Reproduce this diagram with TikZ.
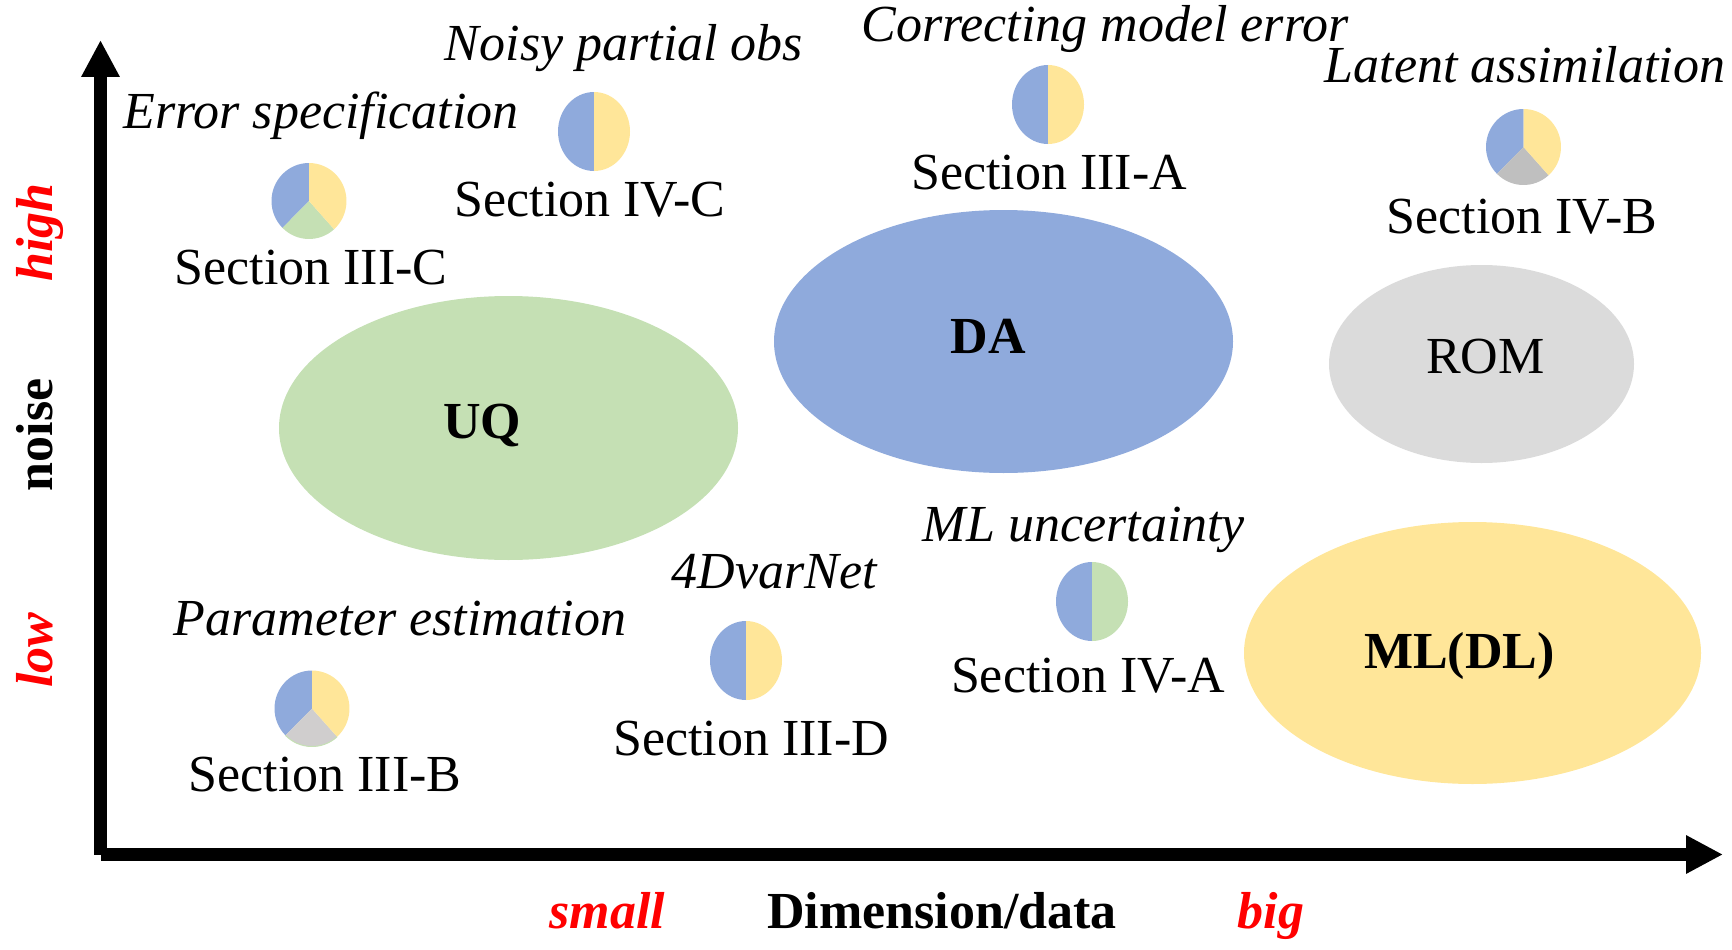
\documentclass[tikz,border=0pt]{standalone}
\usepackage{fontspec}
\setmainfont{Liberation Serif}
\usetikzlibrary{shapes.geometric,arrows.meta}
\definecolor{pblue}{HTML}{8FAADC}
\definecolor{pyellow}{HTML}{FFE699}
\definecolor{pgreen}{HTML}{C5E0B4}
\definecolor{pgray}{HTML}{DBDBDB}
\definecolor{pdgray}{HTML}{BFBFBF}
\definecolor{plgray}{HTML}{D0CECE}
\definecolor{axred}{HTML}{FF0000}
\newcommand{\bigfs}{\fontsize{52}{60}\selectfont}
% cx cy start end colour rx ry
\newcommand{\pieslice}[7]{%
  \fill[#5] (#1,#2) -- ++(#3:#6pt and #7pt) arc[start angle=#3, end angle=#4, x radius=#6pt, y radius=#7pt] -- cycle;}
\newcommand{\pietwo}[3]{% cx cy right colour
  \pieslice{#1}{#2}{90}{270}{pblue}{36}{39.5}%
  \pieslice{#1}{#2}{-90}{90}{#3}{36}{39.5}}
\newcommand{\piethree}[3]{% cx cy bottom colour
  \pieslice{#1}{#2}{90}{225}{pblue}{37.5}{38}%
  \pieslice{#1}{#2}{225}{312}{#3}{37.5}{38}%
  \pieslice{#1}{#2}{-48}{90}{pyellow}{37.5}{38}}
\tikzset{
  blob/.style={ellipse, inner sep=0pt, draw=none},
  sect/.style={font=\bigfs, anchor=base, inner sep=0pt},
  topic/.style={font=\bigfs\itshape, anchor=base, inner sep=0pt},
  field/.style={font=\bigfs\bfseries, anchor=base, inner sep=0pt},
  plainfield/.style={font=\bigfs, anchor=base, inner sep=0pt},
  axlabel/.style={font=\bigfs\bfseries, anchor=base, inner sep=0pt},
  axred/.style={font=\bigfs\bfseries\itshape, text=axred, anchor=base, inner sep=0pt},
  axis/.style={line width=12.5pt, -{Triangle[length=37pt,width=36pt]}}
}
\begin{document}
\begin{tikzpicture}[x=1pt,y=-1pt]
\useasboundingbox (0,0) rectangle (1732,950);

% big ellipses
\node[blob, fill=pgreen, minimum width=459pt, minimum height=264pt] (uqe) at (508.5,428) {};
\node[blob, fill=pblue, minimum width=459pt, minimum height=263pt] (dae) at (1003.5,341.5) {};
\node[blob, fill=pgray, minimum width=305pt, minimum height=198pt] (rome) at (1481.5,364) {};
\node[blob, fill=pyellow, minimum width=457pt, minimum height=262pt] (mle) at (1472.5,653) {};

\node[field] (uq) at (482,438) {UQ};
\node[field] (da) at (988.5,353) {DA};
\node[plainfield] (rom) at (1485.5,373) {ROM};
\node[field] (ml) at (1459.5,668) {ML(DL)};

% pies
\piethree{309}{201}{pgreen}
\pietwo{594}{131.5}{pyellow}
\pietwo{1048}{104.5}{pyellow}
\piethree{1523.5}{147}{pdgray}
\piethree{312}{708.5}{plgray}
\draw[pgreen, line width=1pt] (312,708.5) ++(225:37.5pt and 38pt) arc[start angle=225, end angle=312, x radius=37.5pt, y radius=38pt];
\pietwo{746}{660.5}{pyellow}
\pietwo{1092}{601.5}{pgreen}

% topic labels
\node[topic] (errspec) at (321,128) {Error specification};
\node[topic] (noisy) at (624,61) {Noisy partial obs};
\node[topic] (corr) at (1105,42) {Correcting model error};
\node[topic] (latent) at (1525,82) {Latent assimilation};
\node[topic] (param) at (400,635) {Parameter estimation};
\node[topic] (vnet) at (774,588) {4DvarNet};
\node[topic] (mlunc) at (1084,541) {ML uncertainty};

% section labels
\node[sect] (s3c) at (311,284) {Section III-C};
\node[sect] (s4c) at (590,216) {Section IV-C};
\node[sect] (s3a) at (1049,189) {Section III-A};
\node[sect] (s4b) at (1522,233) {Section IV-B};
\node[sect] (s3b) at (325,791) {Section III-B};
\node[sect] (s3d) at (751,755) {Section III-D};
\node[sect] (s4a) at (1088,692) {Section IV-A};

% axes
\coordinate (O) at (100.5,854.5);
\coordinate (ytop) at (100.5,40);
\coordinate (xend) at (1723,854.5);
\draw[axis] (O) -- (ytop);
\draw[axis] (O) -- (xend);

% axis labels
\node[axred, rotate=90] (high) at (52,232.5) {high};
\node[axlabel, rotate=90] (noise) at (52,435) {noise};
\node[axred, rotate=90] (low) at (52,650) {low};
\node[axred] (small) at (607.5,928) {small};
\node[axlabel] (dimdata) at (942,928) {Dimension/data};
\node[axred] (big) at (1271,928) {big};
\end{tikzpicture}
\end{document}
